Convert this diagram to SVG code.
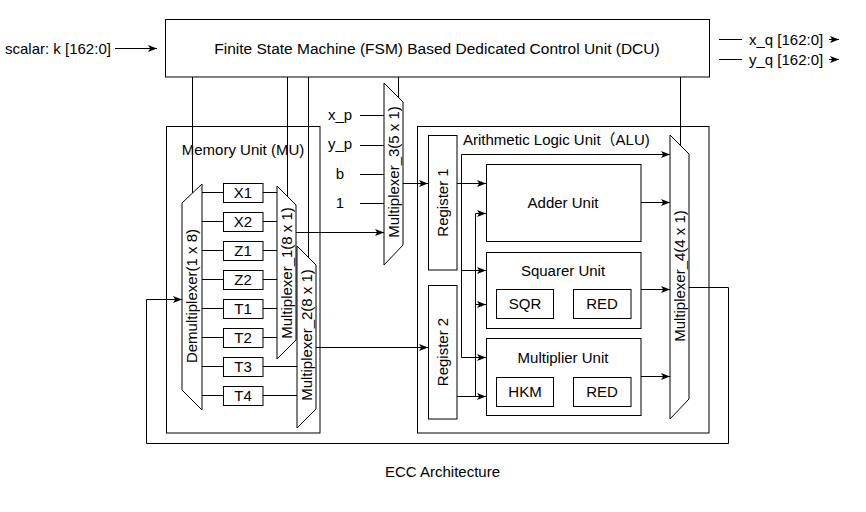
<svg xmlns="http://www.w3.org/2000/svg" width="866" height="512" viewBox="0 0 866 512">
<style>
.t{font-family:"Liberation Sans",Arial,Helvetica,sans-serif;font-size:15px;fill:#000}
.m{text-anchor:middle}
.cjk{font-family:"Liberation Sans",Arial,"Noto Sans CJK SC",sans-serif}
.b{fill:#fff;stroke:#000;stroke-width:1}
.c{fill:none;stroke:#000;stroke-width:1}
.a{marker-end:url(#arr)}
</style>
<defs>
<marker id="arr" markerUnits="userSpaceOnUse" markerWidth="9" markerHeight="8" viewBox="0 0 9 8" refX="9" refY="4" orient="auto">
<path d="M0,0.5 L9,4 L0,7.5 L2.2,4 z" fill="#000"/>
</marker>
</defs>
<rect width="866" height="512" fill="#fff"/>

<g id="mu"><rect class="b" x="166.5" y="126.5" width="153.5" height="306.5"/><text class="t m" x="243" y="155">Memory Unit (MU)</text></g>
<g id="alu"><rect class="b" x="417.5" y="126.5" width="291.5" height="306.5"/><text class="t cjk" x="463" y="145">Arithmetic Logic Unit（ALU)</text></g>

<g id="connectors">
<path class="c a" d="M115,48.5 H157"/>
<path class="c" d="M719,39.5 H742"/><path class="c a" d="M829,39.5 H839"/>
<path class="c" d="M719,59.5 H742"/><path class="c a" d="M829,59.5 H839"/>
<path class="c" d="M192.5,77 V193"/>
<path class="c" d="M287.5,77 V196"/>
<path class="c" d="M308.5,77 V257"/>
<path class="c" d="M398.5,77 V97"/>
<path class="c" d="M680.5,77 V145"/>
<path class="c" d="M202,192.5 H223 M202,221.5 H223 M202,250.5 H223 M202,279.5 H223 M202,308.5 H223 M202,337.5 H223 M202,366.5 H223 M202,395.5 H223"/>
<path class="c" d="M263,192.5 H277 M263,221.5 H277 M263,250.5 H277 M263,279.5 H277 M263,308.5 H277 M263,337.5 H277 M263,366.5 H297 M263,395.5 H297"/>
<path class="c a" d="M296,232.5 H384"/>
<path class="c" d="M360,115.5 H384 M360,145.5 H384 M360,174.5 H384 M360,203.5 H384"/>
<path class="c a" d="M403,183.5 H428"/>
<path class="c a" d="M316,347.5 H428"/>
<path class="c a" d="M457,183.5 H486"/>
<path class="c a" d="M461.5,183.5 V154.5 H670"/>
<path class="c a" d="M461.5,183.5 V357.5 H486"/>
<path class="c a" d="M461.5,270.5 H486"/>
<path class="c a" d="M457,396.5 H486"/>
<path class="c a" d="M475.5,396.5 V213.5 H486"/>
<path class="c a" d="M475.5,304.5 H486"/>
<path class="c a" d="M641,202.5 H670"/>
<path class="c a" d="M641,289.5 H670"/>
<path class="c a" d="M641,376.5 H670"/>
<path class="c a" d="M689,287.5 H728.5 V443.5 H146.5 V299.5 H182"/>
</g>

<g id="fsm"><rect class="b" x="165.5" y="19.5" width="544" height="57.5"/><text class="t m" x="437" y="53.5" style="font-size:15.5px">Finite State Machine (FSM) Based Dedicated Control Unit (DCU)</text></g>
<g id="scalar"><text class="t" x="5" y="53.5">scalar: k [162:0]</text></g>
<g id="xq"><text class="t" x="749" y="44.5">x_q [162:0]</text></g>
<g id="yq"><text class="t" x="749" y="64.5">y_q [162:0]</text></g>

<g id="demux"><polygon class="b" points="182,203 202,184 202,410 182,390"/><text class="t m" x="192" y="301.3" transform="rotate(-90 192 296)">Demultiplexer(1 x 8)</text></g>
<g id="X1"><rect class="b" x="223.5" y="183.5" width="39.5" height="19"/><text class="t m" x="243" y="198">X1</text></g>
<g id="X2"><rect class="b" x="223.5" y="212.5" width="39.5" height="19"/><text class="t m" x="243" y="227">X2</text></g>
<g id="Z1"><rect class="b" x="223.5" y="241.5" width="39.5" height="19"/><text class="t m" x="243" y="256">Z1</text></g>
<g id="Z2"><rect class="b" x="223.5" y="270.5" width="39.5" height="19"/><text class="t m" x="243" y="285">Z2</text></g>
<g id="T1"><rect class="b" x="223.5" y="299.5" width="39.5" height="19"/><text class="t m" x="243" y="314">T1</text></g>
<g id="T2"><rect class="b" x="223.5" y="328.5" width="39.5" height="19"/><text class="t m" x="243" y="343">T2</text></g>
<g id="T3"><rect class="b" x="223.5" y="357.5" width="39.5" height="19"/><text class="t m" x="243" y="372">T3</text></g>
<g id="T4"><rect class="b" x="223.5" y="386.5" width="39.5" height="19"/><text class="t m" x="243" y="401">T4</text></g>
<g id="mux1"><polygon class="b" points="277,186 296,205 296,340 277,359"/><text class="t m" x="287" y="278.3" transform="rotate(-90 287 273)">Multiplexer_1(8 x 1)</text></g>
<g id="mux2"><polygon class="b" points="297,246 316,265 316,409 297,428"/><text class="t m" x="306.5" y="340.3" transform="rotate(-90 306.5 335)">Multiplexer_2(8 x 1)</text></g>

<g id="inputs">
<text class="t m" x="340" y="120">x_p</text>
<text class="t m" x="340" y="149">y_p</text>
<text class="t m" x="340" y="179">b</text>
<text class="t m" x="340" y="208">1</text>
</g>
<g id="mux3"><polygon class="b" points="384,83 403,102 403,245 384,265"/><text class="t m" x="394" y="177.3" transform="rotate(-90 394 172)">Multiplexer_3(5 x 1)</text></g>

<g id="reg1"><rect class="b" x="428.5" y="135.5" width="28.5" height="134.5"/><text class="t m" x="442.5" y="207.8" transform="rotate(-90 442.5 202.5)">Register 1</text></g>
<g id="reg2"><rect class="b" x="428.5" y="285.5" width="28.5" height="133.5"/><text class="t m" x="442.5" y="357.3" transform="rotate(-90 442.5 352)">Register 2</text></g>
<g id="adder"><rect class="b" x="486.5" y="164.5" width="154.5" height="77"/><text class="t m" x="563" y="207.5">Adder Unit</text></g>
<g id="squarer"><rect class="b" x="486.5" y="252.5" width="154.5" height="76"/><text class="t m" x="563" y="276">Squarer Unit</text>
<rect class="b" x="496.5" y="289.5" width="57" height="29"/><text class="t m" x="525" y="309">SQR</text>
<rect class="b" x="573.5" y="289.5" width="57.5" height="29"/><text class="t m" x="602" y="309">RED</text></g>
<g id="multiplier"><rect class="b" x="486.5" y="338.5" width="154.5" height="77"/><text class="t m" x="563" y="363">Multiplier Unit</text>
<rect class="b" x="496.5" y="377.5" width="57" height="29"/><text class="t m" x="525" y="397">HKM</text>
<rect class="b" x="573.5" y="377.5" width="57.5" height="29"/><text class="t m" x="602" y="397">RED</text></g>
<g id="mux4"><polygon class="b" points="670,135 689,154 689,399 670,419"/><text class="t m" x="680" y="281.3" transform="rotate(-90 680 276)">Multiplexer_4(4 x 1)</text></g>

<text class="t m" x="442.5" y="477">ECC Architecture</text>
</svg>
